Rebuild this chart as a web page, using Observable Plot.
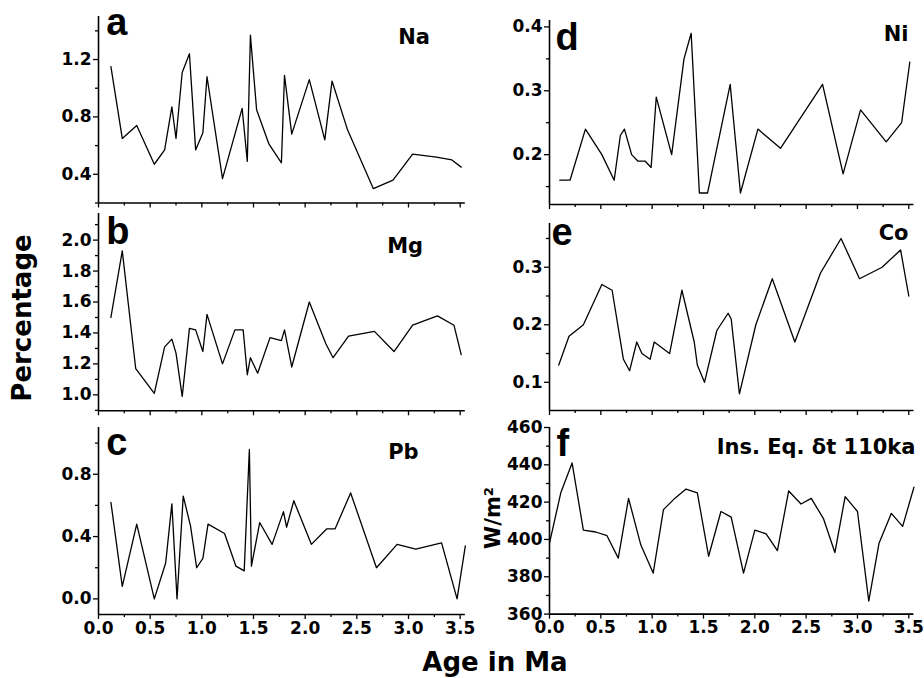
<!DOCTYPE html>
<html><head><meta charset="utf-8">
<script src="https://cdn.jsdelivr.net/npm/d3@7"></script>
<script src="https://cdn.jsdelivr.net/npm/@observablehq/plot@0.6"></script>
<style>
body{margin:0;background:#fff;}
#fig{position:relative;width:924px;height:678px;overflow:hidden;background:#fff;}
#fig svg{position:absolute;overflow:visible;}
</style></head><body><div id="fig"></div>
<script>
// ---- data (Age in Ma, values) ----
const naAge=[0.12,0.23,0.37,0.54,0.64,0.71,0.75,0.81,0.88,0.94,1.01,1.05,1.2,1.39,1.44,1.47,1.53,1.65,1.77,1.8,1.87,2.04,2.19,2.26,2.41,2.66,2.85,3.04,3.27,3.42,3.51];
const naVal=[1.15,0.65,0.74,0.47,0.57,0.87,0.65,1.11,1.24,0.57,0.69,1.08,0.37,0.86,0.49,1.37,0.85,0.61,0.48,1.09,0.68,1.06,0.64,1.05,0.71,0.30,0.36,0.54,0.52,0.50,0.45];
const mgAge=[0.12,0.23,0.36,0.54,0.64,0.71,0.75,0.81,0.88,0.94,1.01,1.05,1.2,1.32,1.4,1.44,1.47,1.54,1.66,1.77,1.8,1.87,2.04,2.2,2.27,2.42,2.67,2.86,3.04,3.28,3.44,3.51];
const mgVal=[1.50,1.93,1.17,1.01,1.31,1.36,1.27,0.99,1.43,1.42,1.28,1.52,1.20,1.42,1.42,1.13,1.24,1.14,1.37,1.35,1.42,1.18,1.60,1.33,1.24,1.38,1.41,1.28,1.45,1.51,1.45,1.26];
const pbAge=[0.12,0.23,0.37,0.54,0.65,0.71,0.76,0.82,0.89,0.95,1.01,1.06,1.22,1.33,1.41,1.46,1.48,1.56,1.68,1.79,1.82,1.89,2.06,2.21,2.29,2.44,2.69,2.89,3.07,3.32,3.47,3.55];
const pbVal=[0.62,0.08,0.48,0.0,0.23,0.61,0.0,0.66,0.47,0.20,0.26,0.48,0.42,0.21,0.18,0.96,0.21,0.49,0.35,0.56,0.46,0.63,0.35,0.45,0.45,0.68,0.20,0.35,0.32,0.36,0.0,0.34];
const niAge=[0.10,0.20,0.35,0.51,0.63,0.69,0.73,0.80,0.86,0.93,0.99,1.04,1.19,1.31,1.38,1.46,1.54,1.76,1.86,2.03,2.25,2.66,2.86,3.03,3.28,3.43,3.51];
const niVal=[0.16,0.16,0.24,0.20,0.16,0.23,0.24,0.20,0.19,0.19,0.18,0.29,0.20,0.35,0.39,0.14,0.14,0.31,0.14,0.24,0.21,0.31,0.17,0.27,0.22,0.25,0.345];
const coAge=[0.09,0.19,0.33,0.51,0.61,0.72,0.78,0.85,0.90,0.98,1.02,1.17,1.29,1.41,1.44,1.51,1.63,1.74,1.77,1.85,2.01,2.17,2.39,2.64,2.84,3.02,3.24,3.42,3.50];
const coVal=[0.13,0.18,0.20,0.27,0.26,0.14,0.12,0.17,0.15,0.14,0.17,0.15,0.26,0.17,0.13,0.10,0.19,0.22,0.21,0.08,0.20,0.28,0.17,0.29,0.35,0.28,0.30,0.33,0.25];
const insAge=[0,0.11,0.22,0.33,0.45,0.56,0.67,0.77,0.89,1.01,1.11,1.22,1.33,1.44,1.55,1.67,1.77,1.89,2.0,2.11,2.22,2.33,2.45,2.55,2.67,2.78,2.88,3.0,3.11,3.21,3.33,3.44,3.55];
const insVal=[398,425,441,405,404,402,390,422,397,382,416,422,427,425,391,415,412,382,405,403,394,426,419,422,411,393,423,415,367,398,414,407,428];

// ---- tick values ----
const xMajor=[0,0.5,1,1.5,2,2.5,3,3.5];
const xMinor=[0.25,0.75,1.25,1.75,2.25,2.75,3.25];
const naTicks=[0.4,0.8,1.2], naMinor=[0.2,0.6,1.0,1.4];
const mgTicks=[1.0,1.2,1.4,1.6,1.8,2.0], mgMinor=[0.9,1.1,1.3,1.5,1.7,1.9,2.1];
const pbTicks=[0.0,0.4,0.8], pbMinor=[-0.2,0.2,0.6,1.0];
const niTicks=[0.2,0.3,0.4], niMinor=[0.15,0.25,0.35];
const coTicks=[0.1,0.2,0.3], coMinor=[0.15,0.25,0.35];
const insTicks=[360,380,400,420,440,460], insMinor=[370,390,410,430,450];

// ---- layout ----
const cols=[{left:98.3,unit:103.34},{left:549,unit:102.66}];
const panels=[
 {age:naAge,val:naVal,ticks:naTicks,minor:naMinor,fmt:d3.format(".1f"),col:0,top:16,bottom:202.5,domain:[0.2,1.5],xl:false,letter:"a",lx:106,ly:35,name:"Na",nx:398,ny:44,na:"start"},
 {age:mgAge,val:mgVal,ticks:mgTicks,minor:mgMinor,fmt:d3.format(".1f"),col:0,top:212.7,bottom:410,domain:[0.897,2.172],xl:false,letter:"b",lx:106,ly:243,name:"Mg",nx:387,ny:252,na:"start"},
 {age:pbAge,val:pbVal,ticks:pbTicks,minor:pbMinor,fmt:d3.format(".1f"),col:0,top:427,bottom:614,domain:[-0.1,1.1],xl:true,letter:"c",lx:106,ly:455,name:"Pb",nx:388,ny:459,na:"start"},
 {age:niAge,val:niVal,ticks:niTicks,minor:niMinor,fmt:d3.format(".1f"),col:1,top:20,bottom:204,domain:[0.122,0.41],xl:false,letter:"d",lx:555,ly:50,name:"Ni",nx:908,ny:41,na:"end"},
 {age:coAge,val:coVal,ticks:coTicks,minor:coMinor,fmt:d3.format(".1f"),col:1,top:223,bottom:410,domain:[0.051,0.376],xl:false,letter:"e",lx:551,ly:245,name:"Co",nx:908,ny:240,na:"end"},
 {age:insAge,val:insVal,ticks:insTicks,minor:insMinor,fmt:d3.format("d"),col:1,top:426.7,bottom:613.3,domain:[360,460],xl:true,letter:"f",lx:556,ly:455,name:"Ins. Eq. \u03b4t 110ka",nx:915,ny:453,na:"end"}
];

const fig=document.getElementById("fig");
const blank=()=>"";
const mL=90,mR=14,mT=12,mB=34;
for(const p of panels){
  const c=cols[p.col];
  const fw=3.55*c.unit, fh=p.bottom-p.top;
  const svg=Plot.plot({
    width:mL+fw+mR, height:mT+fh+mB,
    marginLeft:mL, marginRight:mR, marginTop:mT, marginBottom:mB,
    x:{domain:[0,3.55],label:null},
    y:{domain:p.domain,label:null},
    style:{background:"transparent",fontFamily:"'DejaVu Sans',sans-serif",fontSize:"17px",fontWeight:"bold",color:"#000",maxWidth:"none"},
    marks:[
      Plot.axisX(xMinor,{tickSize:3,tickFormat:blank,strokeWidth:1.3,label:null}),
      Plot.axisX(xMajor,{tickSize:5,tickPadding:2,tickFormat:p.xl?d3.format(".1f"):blank,strokeWidth:1.3,label:null}),
      Plot.axisY(p.minor.filter(v=>v>=p.domain[0]&&v<=p.domain[1]),{tickSize:3,tickFormat:blank,strokeWidth:1.3,label:null}),
      Plot.axisY(p.ticks,{tickSize:5,tickPadding:2,tickFormat:p.fmt,strokeWidth:1.3,label:null}),
      Plot.ruleX([0],{strokeWidth:1.6}),
      Plot.ruleY([p.domain[0]],{strokeWidth:1.6}),
      Plot.line(p.val,{x:p.age,y:p.val,stroke:"#000",strokeWidth:1.3}),
      Plot.text([p.letter],{text:d=>d,frameAnchor:"top-left",dx:p.lx-c.left,dy:p.ly-p.top,textAnchor:"start",lineAnchor:"bottom",fontSize:38,fontFamily:"'Liberation Sans Narrow','Liberation Sans',sans-serif",fontWeight:"bold"}),
      Plot.text([p.name],{text:d=>d,frameAnchor:"top-left",dx:p.nx-c.left,dy:p.ny-p.top,textAnchor:p.na,lineAnchor:"bottom",fontSize:21,fontWeight:"bold"})
    ]
  });
  svg.style.left=(c.left-mL)+"px";
  svg.style.top=(p.top-mT)+"px";
  fig.appendChild(svg);
}

// ---- axis titles ----
const ov=d3.select(fig).append("svg").attr("width",924).attr("height",678).style("left","0px").style("top","0px")
  .attr("font-family","'DejaVu Sans',sans-serif").attr("font-weight","bold");
ov.append("text").attr("transform","translate(31,318) rotate(-90)").attr("text-anchor","middle").attr("font-size",26).text("Percentage");
ov.append("text").attr("transform","translate(500,518) rotate(-90)").attr("text-anchor","middle").attr("font-size",21).text("W/m\u00b2");
ov.append("text").attr("x",495).attr("y",671).attr("text-anchor","middle").attr("font-size",26).text("Age in Ma");
</script></body></html>
